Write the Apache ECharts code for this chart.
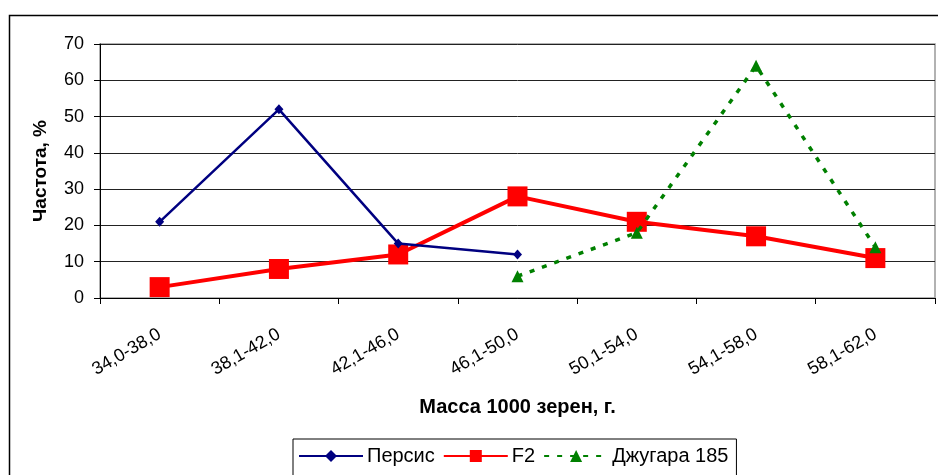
<!DOCTYPE html>
<html><head><meta charset="utf-8">
<script src="https://cdn.jsdelivr.net/npm/echarts@6/dist/echarts.min.js"></script>
<style>html,body{margin:0;padding:0;background:#fff}#c{width:938px;height:475px}</style>
</head><body><div id="c"></div>
<script>
var categories = ['34,0-38,0','38,1-42,0','42,1-46,0','46,1-50,0','50,1-54,0','54,1-58,0','58,1-62,0'];
var persis = [21, 52, 15, 12, null, null, null];
var f2 = [3, 8, 12, 28, 21, 17, 11];
var dzhugara = [null, null, null, 6, 18, 64, 14];
var seriesNames = ['Персис', 'F2', 'Джугара 185'];
var yTicks = {min: 0, max: 70, interval: 10};
var xTitle = 'Масса 1000 зерен, г.';
var yTitle = 'Частота, %';

var F = 'Liberation Sans, Arial, sans-serif';
var chart = echarts.init(document.getElementById('c'), null, {renderer: 'canvas'});
chart.setOption({
  animation: false,
  backgroundColor: '#fff',
  graphic: [{
    type: 'rect', left: 7, top: 13, silent: true,
    shape: {width: 960, height: 500},
    style: {fill: 'none', stroke: '#000', lineWidth: 1.5}
  }],
  grid: {left: 100, top: 44, right: 3, bottom: 177, show: true, borderColor: '#999', borderWidth: 1.5},
  legend: {
    left: 293, top: 439,
    padding: [7, 8, 12, 5],
    borderColor: '#000', borderWidth: 1,
    itemWidth: 64, itemHeight: 15, itemGap: 8,
    textStyle: {fontFamily: F, fontSize: 20, color: '#000', padding: [0,0,0,-1]},
    data: seriesNames
  },
  xAxis: {
    type: 'category', data: categories, boundaryGap: true,
    name: xTitle, nameLocation: 'middle', nameGap: 99,
    nameTextStyle: {fontFamily: F, fontSize: 20, fontWeight: 'bold', color: '#000'},
    axisLine: {lineStyle: {color: '#000', width: 1}},
    axisTick: {show: true, interval: 0, length: 6, lineStyle: {color: '#000'}},
    axisLabel: {interval: 0, rotate: 30, margin: 35, fontFamily: F, fontSize: 18, color: '#000'},
    splitLine: {show: false}
  },
  yAxis: {
    type: 'value', min: yTicks.min, max: yTicks.max, interval: yTicks.interval,
    name: yTitle, nameLocation: 'middle', nameGap: 50, nameRotate: 90,
    nameTextStyle: {fontFamily: F, fontSize: 19, fontWeight: 'bold', color: '#000'},
    axisLine: {show: true, lineStyle: {color: '#000', width: 1}},
    axisTick: {show: true, length: 6, lineStyle: {color: '#000'}},
    axisLabel: {margin: 16, fontFamily: F, fontSize: 18, color: '#000'},
    splitLine: {show: true, lineStyle: {color: '#222', width: 1}}
  },
  series: [
    {name: seriesNames[0], type: 'line', data: persis, connectNulls: false,
     symbol: 'diamond', symbolSize: [9, 10], showAllSymbol: true,
     lineStyle: {color: '#000080', width: 2.5}, itemStyle: {color: '#000080'}, z: 3},
    {name: seriesNames[1], type: 'line', data: f2, connectNulls: false,
     symbol: 'rect', symbolSize: 20, showAllSymbol: true,
     lineStyle: {color: '#FF0000', width: 4}, itemStyle: {color: '#FF0000'}, z: 2},
    {name: seriesNames[2], type: 'line', data: dzhugara, connectNulls: false,
     symbol: 'triangle', symbolSize: [12, 12], showAllSymbol: true,
     lineStyle: {color: '#008000', width: 3.5, type: [5, 8]}, itemStyle: {color: '#008000'}, z: 4}
  ]
});
</script></body></html>
